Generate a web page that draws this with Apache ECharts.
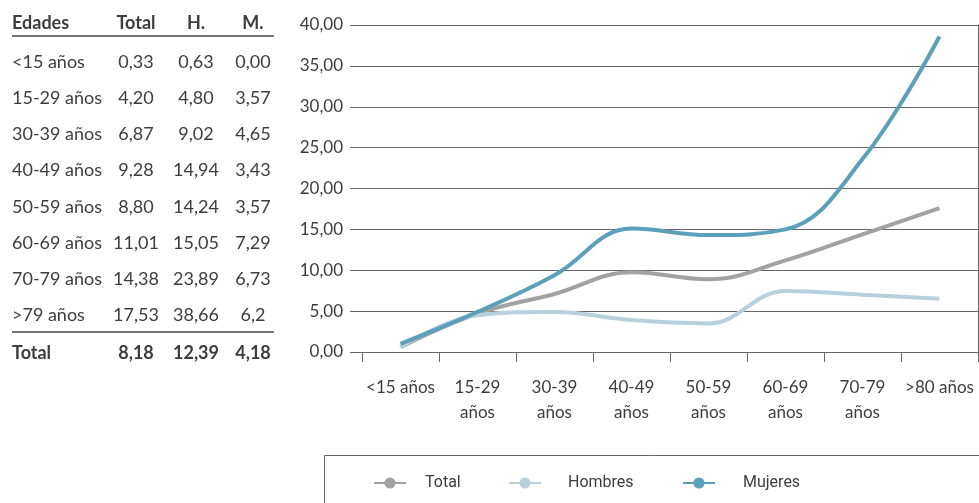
<!DOCTYPE html>
<html>
<head>
<meta charset="utf-8">
<script src="https://cdn.jsdelivr.net/npm/echarts@6/dist/echarts.min.js"></script>
<style>
  html, body { margin: 0; padding: 0; background: #fff; }
  #chart { width: 979px; height: 503px; }
</style>
</head>
<body>
<div id="chart"></div>
<script>
// eje x del gráfico
const categories = ['<15 años', '15-29 años', '30-39 años', '40-49 años', '50-59 años', '60-69 años', '70-79 años', '>80 años']
// valores
const totalLine = [0.6, 4.7, 7.1, 9.75, 8.9, 11.2, 14.4, 17.6]
const hombresLine = [0.6, 4.5, 4.9, 3.9, 3.5, 7.45, 7.0, 6.5]
const mujeresLine = [1.0, 4.9, 9.4, 15.1, 14.3, 15.0, 23.6, 38.6]
const seriesNames = ['Total', 'Hombres', 'Mujeres']

// tabla de la izquierda
const tableHeader = ['Edades', 'Total', 'H.', 'M.']
const tableAges = ['<15 años', '15-29 años', '30-39 años', '40-49 años', '50-59 años', '60-69 años', '70-79 años', '>79 años']
const tableTotal = ['0,33', '4,20', '6,87', '9,28', '8,80', '11,01', '14,38', '17,53']
const tableH = ['0,63', '4,80', '9,02', '14,94', '14,24', '15,05', '23,89', '38,66']
const tableM = ['0,00', '3,57', '4,65', '3,43', '3,57', '7,29', '6,73', '6,2']
const tableFooter = ['Total', '8,18', '12,39', '4,18']

const FONT = 'Lato, "Open Sans", sans-serif'
const TEXT = '#3d3d3d'
const GRID_COLOR = '#666'

let chart = echarts.init(document.getElementById('chart'))

// columnas de la tabla: x del centro
const colX = [12, 136, 196, 253]
const rowY = [62, 98, 134, 170, 207, 243, 279, 315]
let graphics = []
function cell (text, col, y, bold) {
  graphics.push({
    type: 'text',
    x: colX[col],
    y: y,
    style: {
      text: text,
      fill: TEXT,
      font: (bold ? 'bold ' : '') + '18px ' + FONT,
      align: col === 0 ? 'left' : 'center',
      verticalAlign: 'middle'
    }
  })
}
tableHeader.forEach((t, i) => cell(t, i, 23, true))
tableAges.forEach((t, r) => {
  cell(t, 0, rowY[r])
  cell(tableTotal[r], 1, rowY[r])
  cell(tableH[r], 2, rowY[r])
  cell(tableM[r], 3, rowY[r])
})
tableFooter.forEach((t, i) => cell(t, i, 353, true))
graphics.push({ type: 'line', shape: { x1: 12, y1: 36, x2: 274, y2: 36 }, style: { stroke: '#444', lineWidth: 1.5 } })
graphics.push({ type: 'line', shape: { x1: 12, y1: 332, x2: 274, y2: 332 }, style: { stroke: '#444', lineWidth: 1.5 } })
// caja de la leyenda
graphics.push({ type: 'rect', shape: { x: 324.5, y: 455.5, width: 700, height: 100 }, style: { fill: 'none', stroke: '#666', lineWidth: 1 } })

// una leyenda por serie, colocadas a mano
const legendLeft = [373, 508, 682]
const legendTextGap = [14, 22, 23]
const legends = seriesNames.map((name, i) => ({
  data: [name],
  left: legendLeft[i],
  top: 475,
  padding: 0,
  itemWidth: 32,
  itemHeight: 14,
  textStyle: { color: TEXT, fontSize: 16, lineHeight: 16, fontFamily: 'Roboto, sans-serif', padding: [0, 0, 0, legendTextGap[i]] }
}))

function lineSeries (name, data) {
  return {
    name: name,
    type: 'line',
    xAxisIndex: 1,
    yAxisIndex: 1,
    smooth: 0.4,
    symbol: 'circle',
    symbolSize: 10,
    showSymbol: false,
    lineStyle: { width: 4 },
    data: data
  }
}

chart.setOption({
  color: ['#a2a2a2', '#b8d0dc', '#5c9fba'],
  textStyle: { fontFamily: FONT },
  graphic: graphics,
  legend: legends,
  grid: [
    { left: 350, right: 1, top: 25, bottom: 151 },
    { left: 362, right: 1, top: 25, bottom: 151 }
  ],
  xAxis: [
    { gridIndex: 0, type: 'category', data: categories, show: false },
    {
      gridIndex: 1,
      type: 'category',
      data: categories,
      boundaryGap: true,
      axisLine: { lineStyle: { color: GRID_COLOR, width: 1 } },
      axisTick: { show: true, length: 10, inside: false, lineStyle: { color: GRID_COLOR } },
      axisLabel: {
        color: TEXT,
        fontSize: 17,
        lineHeight: 25,
        margin: 23,
        interval: 0,
        formatter: v => (v[0] === '<' || v[0] === '>') ? v : v.replace(' ', '\n')
      }
    }
  ],
  yAxis: [
    {
      gridIndex: 0,
      type: 'value',
      min: 0,
      max: 40,
      interval: 5,
      axisLine: { show: false },
      axisTick: { show: false },
      splitLine: { lineStyle: { color: GRID_COLOR, width: 1 } },
      axisLabel: {
        color: TEXT,
        fontSize: 17,
        margin: 7,
        formatter: v => v.toFixed(2).replace('.', ',')
      }
    },
    {
      gridIndex: 1,
      type: 'value',
      min: 0,
      max: 40,
      interval: 5,
      position: 'right',
      axisLine: { show: true, lineStyle: { color: GRID_COLOR, width: 1 } },
      axisTick: { show: false },
      axisLabel: { show: false },
      splitLine: { show: false }
    }
  ],
  series: [
    lineSeries(seriesNames[0], totalLine),
    lineSeries(seriesNames[1], hombresLine),
    lineSeries(seriesNames[2], mujeresLine)
  ]
})
</script>
</body>
</html>
